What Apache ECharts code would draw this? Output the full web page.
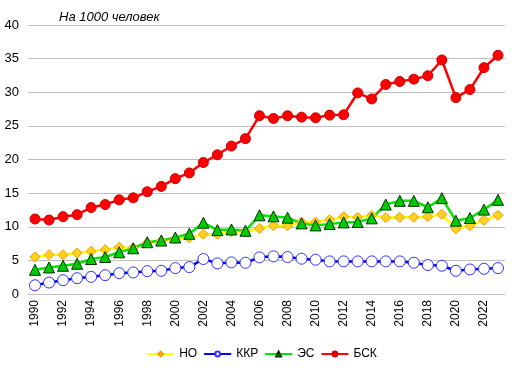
<!DOCTYPE html>
<html><head><meta charset="utf-8">
<script src="https://cdn.jsdelivr.net/npm/echarts@6/dist/echarts.min.js"></script>
<style>html,body{margin:0;padding:0;background:#fff}#c{width:523px;height:372px}</style>
</head><body><div id="c"></div>
<script>
var years = ['1990','1991','1992','1993','1994','1995','1996','1997','1998','1999','2000','2001','2002','2003','2004','2005','2006','2007','2008','2009','2010','2011','2012','2013','2014','2015','2016','2017','2018','2019','2020','2021','2022','2023'];
var NO  = [5.5,5.85,5.85,6.1,6.35,6.6,6.95,6.85,7.6,7.9,8.2,8.35,8.9,8.9,9.25,9.3,9.75,10.15,10.15,10.7,10.7,11.05,11.5,11.4,11.7,11.35,11.4,11.4,11.5,11.85,9.7,10.15,10.95,11.7];
var KKR = [1.3,1.7,2.05,2.35,2.55,2.8,3.1,3.2,3.4,3.45,3.85,4.0,5.2,4.55,4.7,4.65,5.45,5.6,5.5,5.25,5.1,4.85,4.85,4.85,4.85,4.85,4.85,4.65,4.3,4.2,3.45,3.65,3.75,3.85];
var ES  = [3.6,3.95,4.2,4.5,5.2,5.5,6.2,6.8,7.7,7.95,8.4,8.95,10.6,9.5,9.6,9.4,11.7,11.55,11.35,10.5,10.2,10.4,10.65,10.7,11.25,13.3,13.85,13.85,12.9,14.25,10.9,11.3,12.55,14.0];
var BSK = [11.15,11.0,11.5,11.8,12.85,13.3,14.0,14.3,15.2,16.0,17.15,18.0,19.55,20.7,22.0,23.1,26.5,26.1,26.5,26.3,26.2,26.6,26.65,29.9,29.0,31.15,31.6,31.95,32.45,34.8,29.2,30.4,33.65,35.5];
var yTicks = [0,5,10,15,20,25,30,35,40];
var names = ['НО','ККР','ЭС','БСК'];

var font = 'Liberation Sans, Arial, sans-serif';
var chart = echarts.init(document.getElementById('c'), null, {renderer:'canvas'});
chart.setOption({
  animation:false,
  backgroundColor:'#fff',
  title:{text:'На 1000 человек',left:54,top:6,textStyle:{fontFamily:font,fontSize:13,fontStyle:'italic',fontWeight:'normal',color:'#000'}},
  grid:{left:28,right:18,top:25,bottom:78,containLabel:false},
  legend:{bottom:7,left:'center',itemWidth:27,itemHeight:6,itemGap:6,
    textStyle:{fontFamily:font,fontSize:12,color:'#000'},data:names},
  xAxis:{type:'category',data:years,boundaryGap:true,
    axisLine:{lineStyle:{color:'#BFBFBF'}},axisTick:{show:false},
    axisLabel:{interval:1,rotate:90,fontFamily:font,fontSize:12,color:'#000',margin:6}},
  yAxis:{type:'value',min:yTicks[0],max:yTicks[yTicks.length-1],interval:5,
    axisLine:{show:false},axisTick:{show:false},
    splitLine:{lineStyle:{color:'#BFBFBF'}},
    axisLabel:{fontFamily:font,fontSize:13,color:'#000',margin:9}},
  series:[
    {name:names[0],type:'line',data:NO,symbol:'diamond',symbolSize:10,showAllSymbol:true,
      lineStyle:{color:'#FFFF00',width:2.5},itemStyle:{color:'#FFD21F',borderColor:'#FF9900',borderWidth:1}},
    {name:names[1],type:'line',data:KKR,symbol:'circle',symbolSize:11,showAllSymbol:true,
      lineStyle:{color:'#0000FF',width:2.5},itemStyle:{color:'#FFFFFF',borderColor:'#3333FF',borderWidth:1}},
    {name:names[2],type:'line',data:ES,symbol:'triangle',symbolSize:11,showAllSymbol:true,
      lineStyle:{color:'#00E600',width:2.5},itemStyle:{color:'#00CC00',borderColor:'#003300',borderWidth:1}},
    {name:names[3],type:'line',data:BSK,symbol:'circle',symbolSize:10,showAllSymbol:true,
      lineStyle:{color:'#FF0000',width:2.5},itemStyle:{color:'#FF0000',borderColor:'#CC0000',borderWidth:1}}
  ]
});
</script></body></html>
